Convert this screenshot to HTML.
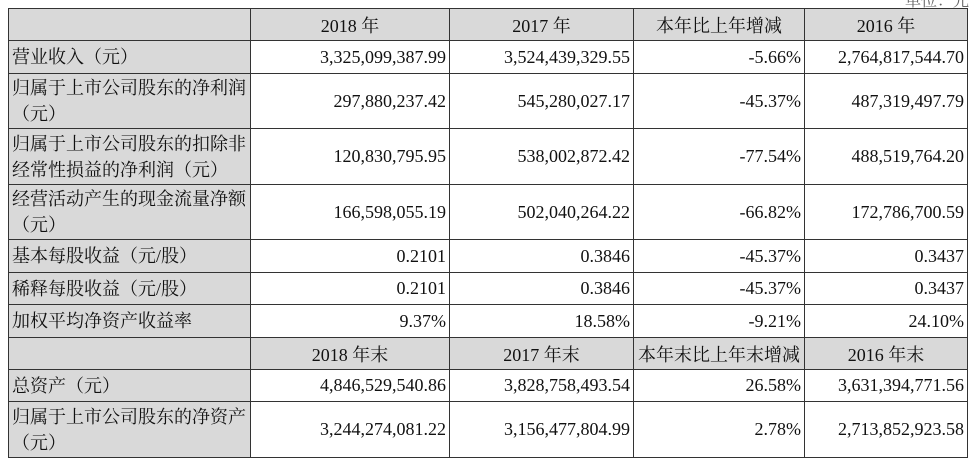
<!DOCTYPE html>
<html><head><meta charset="utf-8"><style>
html,body{margin:0;padding:0;background:#fff;width:973px;height:461px;overflow:hidden;position:relative}
table{position:absolute;left:8px;top:8px;border-collapse:collapse;table-layout:fixed;font-family:"Liberation Serif","Noto Serif CJK SC",serif;font-size:18px;color:#111}
td{border:1px solid #333;padding:0 4px;white-space:nowrap;overflow:hidden}
td.l{background:#d9d9d9;text-align:left;line-height:26px;padding-left:3px}
td.n{text-align:right;padding-right:3px}
tr.h td{background:#d9d9d9;text-align:center}
.top{position:absolute;right:4px;top:-12px;font-family:"Noto Serif CJK SC",serif;font-size:16px;color:#666}
</style></head><body>
<div class="top">单位：元</div>
<table>
<colgroup><col style="width:241px"><col style="width:199px"><col style="width:184px"><col style="width:169px"><col style="width:163px"></colgroup>
<tr class="h" style="height:32px"><td></td><td>2018 年</td><td>2017 年</td><td>本年比上年增减</td><td>2016 年</td></tr>
<tr style="height:33px"><td class="l">营业收入（元）</td><td class="n">3,325,099,387.99</td><td class="n">3,524,439,329.55</td><td class="n">-5.66%</td><td class="n">2,764,817,544.70</td></tr>
<tr style="height:55px"><td class="l">归属于上市公司股东的净利润<br>（元）</td><td class="n">297,880,237.42</td><td class="n">545,280,027.17</td><td class="n">-45.37%</td><td class="n">487,319,497.79</td></tr>
<tr style="height:56px"><td class="l">归属于上市公司股东的扣除非<br>经常性损益的净利润（元）</td><td class="n">120,830,795.95</td><td class="n">538,002,872.42</td><td class="n">-77.54%</td><td class="n">488,519,764.20</td></tr>
<tr style="height:55px"><td class="l">经营活动产生的现金流量净额<br>（元）</td><td class="n">166,598,055.19</td><td class="n">502,040,264.22</td><td class="n">-66.82%</td><td class="n">172,786,700.59</td></tr>
<tr style="height:33px"><td class="l">基本每股收益（元/股）</td><td class="n">0.2101</td><td class="n">0.3846</td><td class="n">-45.37%</td><td class="n">0.3437</td></tr>
<tr style="height:32px"><td class="l">稀释每股收益（元/股）</td><td class="n">0.2101</td><td class="n">0.3846</td><td class="n">-45.37%</td><td class="n">0.3437</td></tr>
<tr style="height:33px"><td class="l">加权平均净资产收益率</td><td class="n">9.37%</td><td class="n">18.58%</td><td class="n">-9.21%</td><td class="n">24.10%</td></tr>
<tr class="h" style="height:32px"><td></td><td>2018 年末</td><td>2017 年末</td><td>本年末比上年末增减</td><td>2016 年末</td></tr>
<tr style="height:32px"><td class="l">总资产（元）</td><td class="n">4,846,529,540.86</td><td class="n">3,828,758,493.54</td><td class="n">26.58%</td><td class="n">3,631,394,771.56</td></tr>
<tr style="height:56px"><td class="l">归属于上市公司股东的净资产<br>（元）</td><td class="n">3,244,274,081.22</td><td class="n">3,156,477,804.99</td><td class="n">2.78%</td><td class="n">2,713,852,923.58</td></tr>
</table>
</body></html>
